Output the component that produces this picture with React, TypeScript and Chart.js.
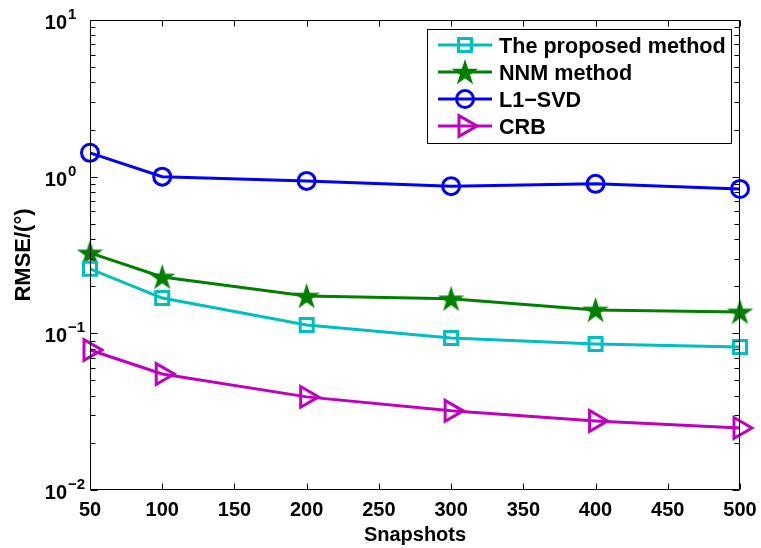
import React, { useEffect, useRef } from 'react';
import { Chart, registerables } from 'chart.js';

Chart.register(...registerables);

const snapshots = [50, 100, 200, 300, 400, 500];
const proposedRmse = [0.258, 0.168, 0.113, 0.0935, 0.0856, 0.0818];
const nnmRmse = [0.326, 0.229, 0.173, 0.166, 0.141, 0.137];
const l1svdRmse = [1.42, 1.0, 0.94, 0.87, 0.9, 0.835];
const crbRmse = [0.0783, 0.055, 0.0393, 0.032, 0.0276, 0.0249];
const xTickValues = [50, 100, 150, 200, 250, 300, 350, 400, 450, 500];
const yDecades = [-2, -1, 0, 1];
const seriesNames = ['The proposed method', 'NNM method', 'L1\u2212SVD', 'CRB'];
const seriesColors = ['#00BFBF', '#008000', '#0000FF', '#BF00BF'];
const xTitle = 'Snapshots';
const yTitle = 'RMSE/(\u00B0)';

const FONT = '"Liberation Sans", Arial, Helvetica, sans-serif';

function starPath(ctx: CanvasRenderingContext2D, cx: number, cy: number, R: number) {
  const r = R * 0.382;
  ctx.beginPath();
  for (let i = 0; i < 10; i++) {
    const rad = i % 2 === 0 ? R : r;
    const a = -Math.PI / 2 + (i * Math.PI) / 5;
    const px = cx + rad * Math.cos(a);
    const py = cy + rad * Math.sin(a);
    if (i === 0) ctx.moveTo(px, py);
    else ctx.lineTo(px, py);
  }
  ctx.closePath();
}

function makeStarCanvas(color: string, R: number) {
  const c = document.createElement('canvas');
  const s = Math.ceil(R * 2 + 6);
  c.width = s;
  c.height = s;
  const g = c.getContext('2d')!;
  starPath(g, s / 2, s / 2 + 1, R);
  g.fillStyle = color;
  g.fill();
  g.strokeStyle = color;
  g.lineWidth = 1.5;
  g.lineJoin = 'miter';
  g.stroke();
  return c;
}

const decorPlugin = {
  id: 'decor',
  afterDatasetsDraw(chart: any) {
    const { ctx, chartArea, scales } = chart;
    const { left, right, top, bottom } = chartArea;
    const x = scales.x;
    const y = scales.y;
    ctx.save();
    ctx.strokeStyle = '#000';
    ctx.lineWidth = 1;
    const L = Math.round(left) + 0.5;
    const R = Math.round(right) - 0.5;
    const T = Math.round(top) + 0.5;
    const B = Math.round(bottom) - 0.5;
    ctx.beginPath();
    ctx.rect(L, T, R - L, B - T);
    ctx.stroke();
    ctx.beginPath();
    for (const v of xTickValues) {
      const px = Math.round(x.getPixelForValue(v)) + 0.5;
      ctx.moveTo(px, B);
      ctx.lineTo(px, B - 6);
      ctx.moveTo(px, T);
      ctx.lineTo(px, T + 6);
    }
    for (let d = -2; d <= 1; d++) {
      for (let k = 1; k <= 9; k++) {
        if (d === 1 && k > 1) break;
        const v = k * Math.pow(10, d);
        const py = Math.round(y.getPixelForValue(v)) + 0.5;
        const len = k === 1 ? 7 : 5;
        ctx.moveTo(L, py);
        ctx.lineTo(L + len, py);
        ctx.moveTo(R, py);
        ctx.lineTo(R - len, py);
      }
    }
    ctx.stroke();
    ctx.fillStyle = '#000';
    for (const d of yDecades) {
      const py = y.getPixelForValue(Math.pow(10, d));
      ctx.font = `bold 20px ${FONT}`;
      ctx.textAlign = 'right';
      ctx.textBaseline = 'alphabetic';
      ctx.fillText('10', 67, py + 9);
      ctx.font = `bold 15px ${FONT}`;
      ctx.textAlign = 'left';
      ctx.fillText(String(d).replace('-', '\u2212'), 68, py - 1);
    }
    ctx.restore();
  },
  afterDraw(chart: any) {
    const { ctx } = chart;
    ctx.save();
    const bx = 427.5, by = 29.5, bw = 304, bh = 114;
    ctx.fillStyle = '#fff';
    ctx.fillRect(bx, by, bw, bh);
    ctx.strokeStyle = '#000';
    ctx.lineWidth = 1;
    ctx.strokeRect(bx, by, bw, bh);
    const rows = [45, 72, 99, 126];
    const x0 = 438, x1 = 492, xm = 465;
    for (let i = 0; i < seriesNames.length; i++) {
      const ry = rows[i];
      const col = seriesColors[i];
      ctx.strokeStyle = col;
      ctx.lineWidth = 3;
      ctx.beginPath();
      ctx.moveTo(x0, ry);
      ctx.lineTo(x1, ry);
      ctx.stroke();
      ctx.lineWidth = 3;
      ctx.beginPath();
      if (i === 0) {
        ctx.rect(xm - 6.5, ry - 6.5, 13, 13);
        ctx.stroke();
      } else if (i === 1) {
        starPath(ctx, xm, ry + 1, 11.5);
        ctx.fillStyle = col;
        ctx.fill();
        ctx.lineWidth = 1.5;
        ctx.stroke();
      } else if (i === 2) {
        ctx.arc(xm, ry, 8.5, 0, Math.PI * 2);
        ctx.stroke();
      } else {
        const r = 12;
        ctx.moveTo(xm + r, ry);
        ctx.lineTo(xm - r / 2, ry - (r * Math.sqrt(3)) / 2);
        ctx.lineTo(xm - r / 2, ry + (r * Math.sqrt(3)) / 2);
        ctx.closePath();
        ctx.stroke();
      }
      ctx.fillStyle = '#000';
      ctx.font = `bold 21.6px ${FONT}`;
      ctx.textAlign = 'left';
      ctx.textBaseline = 'alphabetic';
      ctx.fillText(seriesNames[i], 499, ry + 8);
    }
    ctx.restore();
  },
};

export default function App() {
  const ref = useRef<HTMLCanvasElement | null>(null);
  useEffect(() => {
    const canvas = ref.current;
    if (!canvas) return;
    const star = makeStarCanvas(seriesColors[1], 11.5);
    const mk = (vals: number[]) => snapshots.map((s, i) => ({ x: s, y: vals[i] }));
    const base = {
      borderWidth: 3,
      pointBorderWidth: 3,
      pointBackgroundColor: 'rgba(0,0,0,0)',
      tension: 0,
      clip: false as any,
      fill: false,
    };
    const chart = new Chart(canvas, {
      type: 'line',
      data: {
        datasets: [
          {
            ...base,
            label: seriesNames[0],
            data: mk(proposedRmse),
            borderColor: seriesColors[0],
            pointBorderColor: seriesColors[0],
            pointStyle: 'rect',
            pointRadius: 9.2,
          },
          {
            ...base,
            label: seriesNames[1],
            data: mk(nnmRmse),
            borderColor: seriesColors[1],
            pointBorderColor: seriesColors[1],
            pointStyle: star as any,
            pointRadius: 12,
          },
          {
            ...base,
            label: seriesNames[2],
            data: mk(l1svdRmse),
            borderColor: seriesColors[2],
            pointBorderColor: seriesColors[2],
            pointStyle: 'circle',
            pointRadius: 8.5,
          },
          {
            ...base,
            label: seriesNames[3],
            data: mk(crbRmse),
            borderColor: seriesColors[3],
            pointBorderColor: seriesColors[3],
            pointStyle: 'triangle',
            pointRotation: 90,
            pointRadius: 12,
          },
        ] as any,
      },
      options: {
        animation: false,
        responsive: false,
        events: [],
        layout: { padding: { top: 20, right: 21, left: 0, bottom: 0 } },
        plugins: {
          legend: { display: false },
          tooltip: { enabled: false },
        },
        scales: {
          x: {
            type: 'linear',
            min: 50,
            max: 500,
            afterBuildTicks: (scale: any) => {
              scale.ticks = xTickValues.map((v) => ({ value: v }));
            },
            ticks: {
              color: '#000',
              font: { family: FONT, size: 20, weight: 'bold' },
              padding: 0,
              maxRotation: 0,
              autoSkip: false,
            },
            grid: { display: false },
            border: { display: false },
            title: {
              display: true,
              text: xTitle,
              color: '#000',
              font: { family: FONT, size: 20, weight: 'bold' },
              padding: { top: 0, bottom: 1 },
            },
            afterFit: (scale: any) => {
              scale.height = 58;
            },
          },
          y: {
            type: 'logarithmic',
            min: 0.01,
            max: 10,
            ticks: { display: false },
            grid: { display: false },
            border: { display: false },
            title: {
              display: true,
              text: yTitle,
              color: '#000',
              font: { family: FONT, size: 22, weight: 'bold' },
              padding: { top: 11, bottom: 0 },
            },
            afterFit: (scale: any) => {
              scale.width = 90;
            },
          },
        },
      } as any,
      plugins: [decorPlugin],
    });
    return () => chart.destroy();
  }, []);
  return (
    <div style={{ position: 'absolute', left: 0, top: 0, width: 761, height: 548, background: '#fff' }}>
      <canvas ref={ref} width={761} height={548} style={{ display: 'block' }} />
    </div>
  );
}
